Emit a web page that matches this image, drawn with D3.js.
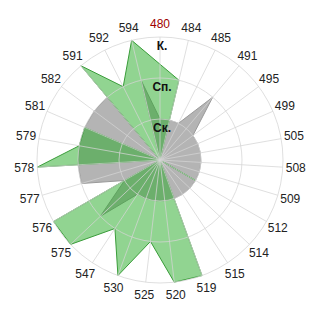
<!DOCTYPE html>
<html>
<head>
<meta charset="utf-8">
<script src="https://cdn.jsdelivr.net/npm/d3@7"></script>
<style>
  html, body { margin: 0; padding: 0; background: #fff; }
  svg { display: block; }
  text { font-family: "Liberation Sans", Arial, sans-serif; }
</style>
</head>
<body>
<div id="chart"></div>
<script>
// Radar axes, clockwise from the top
const categories = ["480","484","485","491","495","499","505","508","509","512","514","515",
  "519","520","525","530","547","575","576","577","578","579","581","582","591","592","594"];
// Radial scale levels (inner to outer)
const levelLabels = ["Ск.", "Сп.", "К."];
const levels = [1, 2, 3];
// Gray series
const grayValues = [1,1,1,2,1,1,1,1,1,1,1,1,1,1,1,1,1,2,1,2,2,2,2,2,2,0,2];
// Green series (null = no value on that axis)
const greenValues = [null,2,0,0,0,0,0,0,0,1,0,0,3,3,2,3,2,3,3,0,3,2,2,0,3,2,3];
const highlighted = "480";

const W = 320, H = 320, cx = 160, cy = 160, R = 123;

const svg = d3.select("#chart").append("svg").attr("width", W).attr("height", H);
const g = svg.append("g").attr("transform", `translate(${cx},${cy})`);

const r = d3.scaleLinear().domain([0, 3]).range([0, R]);
const angle = d3.scaleLinear().domain([0, categories.length]).range([0, 2 * Math.PI]);

const radial = d3.lineRadial()
  .angle(d => angle(d.i))
  .radius(d => r(d.v))
  .curve(d3.curveLinearClosed);

function points(values) {
  return values.map((v, i) => ({ i, v })).filter(d => d.v !== null);
}

// Gray series underneath
g.append("path")
  .attr("d", radial(points(grayValues)))
  .attr("fill", "#b4b4b4")
  .attr("stroke", "#9a9a9a")
  .attr("stroke-width", 1);

// Green series, translucent
g.append("path")
  .attr("d", radial(points(greenValues)))
  .attr("fill", "rgb(36,170,36)")
  .attr("fill-opacity", 0.5)
  .attr("stroke", "#3a9d3a")
  .attr("stroke-width", 1);

// Grid: level circles and spokes
const grid = g.append("g").attr("fill", "none").attr("stroke", "#d4d4d4").attr("stroke-opacity", 0.75);
grid.selectAll("circle").data(levels).join("circle")
  .attr("r", d => r(d));
grid.selectAll("line").data(categories).join("line")
  .attr("x1", 0).attr("y1", 0)
  .attr("x2", (d, i) => R * Math.sin(angle(i)))
  .attr("y2", (d, i) => -R * Math.cos(angle(i)));

// Category labels
const labelR = R + 13;
g.selectAll("text.cat").data(categories).join("text")
  .attr("class", "cat")
  .attr("x", (d, i) => labelR * Math.sin(angle(i)))
  .attr("y", (d, i) => -labelR * Math.cos(angle(i)))
  .attr("text-anchor", "middle")
  .attr("dominant-baseline", "central")
  .attr("font-size", 12)
  .attr("fill", d => d === highlighted ? "#a00000" : "#222")
  .text(d => d);

// Level labels along the top axis
g.selectAll("text.lvl").data(levels).join("text")
  .attr("class", "lvl")
  .attr("x", 2)
  .attr("y", d => -r(d) + 13)
  .attr("text-anchor", "middle")
  .attr("font-size", 12)
  .attr("font-weight", "bold")
  .attr("fill", "#111")
  .text((d, i) => levelLabels[i]);
</script>
</body>
</html>
